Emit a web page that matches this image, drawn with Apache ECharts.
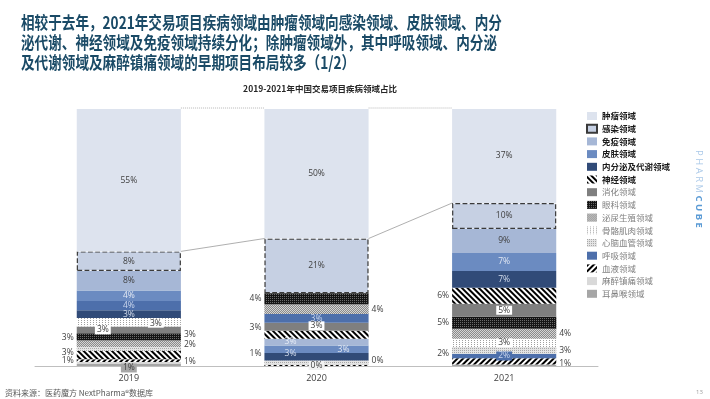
<!DOCTYPE html>
<html>
<head>
<meta charset="utf-8">
<title>2019-2021年中国交易项目疾病领域占比</title>
<script src="https://cdn.jsdelivr.net/npm/echarts@6/dist/echarts.min.js"></script>
<style>
    html, body { margin: 0; padding: 0; background: #fff; }
    #main { width: 710px; height: 399px; }
</style>
</head>
<body>
<div id="main"></div>
<script>
    var years = ['2019', '2020', '2021'];
    var diseases = ['肿瘤领域', '感染领域', '免疫领域', '皮肤领域', '内分泌及代谢领域', '神经领域', '消化领域',
        '眼科领域', '泌尿生殖领域', '骨骼肌肉领域', '心脑血管领域', '呼吸领域', '血液领域', '麻醉镇痛领域', '耳鼻喉领域'];

    // 各领域占比(%)：2019 / 2020 / 2021
    var oncology = [55.4, 50.4, 36.6];
    var infection = [7.6, 21.3, 10.1];
    var immunology = [7.6, 2.6, 9.3];
    var dermatology = [4.1, 2.9, 7.0];
    var endocrine = [3.0, 3.0, 6.6];
    var neurology = [3.2, 3.1, 6.2];
    var digestive = [2.7, 3.1, 5.0];
    var ophthalmology = [2.7, 4.3, 4.7];
    var urogenital = [2.6, 3.8, 3.9];
    var musculoskeletal = [3.3, 0, 3.2];
    var cardio = [1.6, 1.4, 2.6];
    var respiratory = [3.6, 3.4, 1.8];
    var hematology = [1.0, 0.4, 2.4];
    var anesthesia = [0.8, 0.3, 0];
    var ent = [0.8, 0, 0.6];

    // 每年柱子里自下而上的堆叠顺序
    var order2019 = ['耳鼻喉领域', '麻醉镇痛领域', '血液领域', '神经领域', '心脑血管领域', '泌尿生殖领域', '眼科领域',
        '消化领域', '骨骼肌肉领域', '内分泌及代谢领域', '呼吸领域', '皮肤领域', '免疫领域', '感染领域', '肿瘤领域'];
    var order2020 = ['血液领域', '麻醉镇痛领域', '心脑血管领域', '内分泌及代谢领域', '皮肤领域', '免疫领域', '神经领域',
        '消化领域', '呼吸领域', '泌尿生殖领域', '眼科领域', '感染领域', '肿瘤领域'];
    var order2021 = ['耳鼻喉领域', '血液领域', '呼吸领域', '心脑血管领域', '骨骼肌肉领域', '泌尿生殖领域', '眼科领域',
        '消化领域', '神经领域', '内分泌及代谢领域', '皮肤领域', '免疫领域', '感染领域', '肿瘤领域'];

    var valueOf = {
        '肿瘤领域': oncology, '感染领域': infection, '免疫领域': immunology, '皮肤领域': dermatology,
        '内分泌及代谢领域': endocrine, '神经领域': neurology, '消化领域': digestive, '眼科领域': ophthalmology,
        '泌尿生殖领域': urogenital, '骨骼肌肉领域': musculoskeletal, '心脑血管领域': cardio, '呼吸领域': respiratory,
        '血液领域': hematology, '麻醉镇痛领域': anesthesia, '耳鼻喉领域': ent
    };
    var orders = [order2019, order2020, order2021];

    var FONT = "'Noto Sans CJK SC', 'Noto Sans', sans-serif";
    var NUMFONT = "'Open Sans', 'Noto Sans', sans-serif";

    function stripes(rot, on, off) {
        return {symbol: 'rect', symbolSize: 1, color: '#000', dashArrayX: [1, 0], dashArrayY: [on, off], rotation: rot};
    }
    function dots(color, gx, gy) {
        return {symbol: 'rect', symbolSize: 1, color: color, dashArrayX: [1, gx], dashArrayY: [1, gy], rotation: 0};
    }
    function checker(color) {
        return {symbol: 'rect', symbolSize: 1, color: color, dashArrayX: [[1, 1], [0, 1, 1, 0]], dashArrayY: [1, 0], rotation: 0};
    }

    // 图例/色块样式
    var fills = {
        '肿瘤领域': {color: '#dde3ee'},
        '感染领域': {color: '#c6d0e3', borderColor: '#3a3a3a', borderWidth: 1.2, borderType: 'dashed'},
        '免疫领域': {color: '#a6b7d6'},
        '皮肤领域': {color: '#6b8bc1'},
        '内分泌及代谢领域': {color: '#314b78'},
        '神经领域': {color: '#ffffff', decal: stripes(Math.PI / 4, 2, 2)},
        '消化领域': {color: '#7f7f7f'},
        '眼科领域': {color: '#141414', decal: dots('#6a6a6a', 1, 1)},
        '泌尿生殖领域': {color: '#d4d4d4', decal: checker('#8a8a8a')},
        '骨骼肌肉领域': {color: '#ffffff', decal: dots('#a0a0a0', 2, 1)},
        '心脑血管领域': {color: '#e4e4e4', decal: dots('#a8a8a8', 1, 1)},
        '呼吸领域': {color: '#4d6fab'},
        '血液领域': {color: '#ffffff', decal: stripes(-Math.PI / 4, 2, 1.5)},
        '麻醉镇痛领域': {color: '#d9d9d9'},
        '耳鼻喉领域': {color: '#a6a6a6'}
    };
    var lightText = {'皮肤领域': '#e3e9f4', '内分泌及代谢领域': '#d5deee', '呼吸领域': '#cbd7ee'};

    // 标签微调（位置）
    var labelTweak = {
        '2019': {
            '耳鼻喉领域': {offset: [0, 3], backgroundColor: '#a6a6a6'},
            '麻醉镇痛领域': {position: 'right', offset: [0, -1]},
            '血液领域': {position: 'left', offset: [0, 0]},
            '神经领域': {position: 'left', offset: [0, -3]},
            '心脑血管领域': {position: 'right', offset: [0, -4]},
            '泌尿生殖领域': {position: 'right', offset: [0, -9]},
            '眼科领域': {position: 'left', offset: [0, 1]},
            '消化领域': {offset: [-26, 0], backgroundColor: '#ffffff'},
            '骨骼肌肉领域': {offset: [27, 1], backgroundColor: '#ffffff'}
        },
        '2020': {
            '血液领域': {offset: [0, 0], backgroundColor: '#f2f2f2'},
            '麻醉镇痛领域': {position: 'right', offset: [0, -4]},
            '心脑血管领域': {position: 'left', offset: [0, -9]},
            '内分泌及代谢领域': {offset: [-26, -3]},
            '皮肤领域': {offset: [27, 0]},
            '免疫领域': {offset: [-26, -1], color: '#e6ecf6'},
            '神经领域': {position: 'left', offset: [0, -7]},
            '消化领域': {offset: [0, -1], backgroundColor: '#ffffff'},
            '泌尿生殖领域': {position: 'right'},
            '眼科领域': {position: 'left'}
        },
        '2021': {
            '耳鼻喉领域': {position: 'right', offset: [0, -2]},
            '血液领域': {position: 'left', offset: [0, -8]},
            '呼吸领域': {backgroundColor: '#4d6fab'},
            '心脑血管领域': {position: 'right'},
            '骨骼肌肉领域': {backgroundColor: '#ffffff'},
            '泌尿生殖领域': {position: 'right'},
            '眼科领域': {position: 'left'},
            '消化领域': {backgroundColor: '#ffffff'},
            '神经领域': {position: 'left'}
        }
    };

    function styleOf(dname) {
        var f = fills[dname];
        var s = {color: f.color};
        if (f.decal) s.decal = f.decal;
        if (f.borderColor) {
            s.borderColor = f.borderColor;
            s.borderWidth = f.borderWidth;
            s.borderType = f.borderType;
        }
        return s;
    }

    function topOf(j, dname) {
        var s = 0;
        var ord = orders[j];
        for (var n = 0; n < ord.length; n++) {
            s += valueOf[ord[n]][j];
            if (ord[n] === dname) break;
        }
        return s;
    }

    var chart = echarts.init(document.getElementById('main'));

    var maxLayers = Math.max(order2019.length, order2020.length, order2021.length);
    var series = [];

    // 按堆叠层构建 series，每年各层对应不同领域
    for (var k = 0; k < maxLayers; k++) {
        var layerData = [];
        for (var j = 0; j < years.length; j++) {
            var dname = orders[j][k];
            if (!dname) { layerData.push('-'); continue; }
            var tw = labelTweak[years[j]][dname] || {};
            var lab = {
                show: true,
                position: tw.position || 'inside',
                distance: 3,
                color: tw.color || (tw.position ? '#404040' : (lightText[dname] || '#404040'))
            };
            if (tw.offset) lab.offset = tw.offset;
            if (tw.backgroundColor) { lab.backgroundColor = tw.backgroundColor; lab.padding = [0, 2]; }
            layerData.push({value: valueOf[dname][j], itemStyle: styleOf(dname), label: lab});
        }
        series.push({
            name: 'layer' + k,
            type: 'bar',
            stack: 'total',
            barCategoryGap: '44.5%',
            data: layerData,
            label: {
                fontSize: 8.5,
                fontFamily: NUMFONT,
                formatter: function (p) { return Math.round(p.value) + '%'; }
            }
        });
    }

    // 图例用的空 series
    diseases.forEach(function (d) {
        series.push({name: d, type: 'bar', stack: 'total', data: [], itemStyle: styleOf(d)});
    });

    // 感染领域顶部与柱顶的连接线
    var links = [];
    for (var i = 0; i < years.length - 1; i++) {
        links.push([i, topOf(i, '感染领域'), topOf(i + 1, '感染领域'), topOf(i, '肿瘤领域'), topOf(i + 1, '肿瘤领域')]);
    }
    series.push({
        type: 'custom',
        silent: true,
        z: 5,
        data: links,
        encode: {x: 0, y: 1},
        renderItem: function (params, api) {
            var half = api.size([1, 0])[0] * 0.555 / 2;
            var a = api.coord([api.value(0), api.value(1)]);
            var b = api.coord([api.value(0) + 1, api.value(2)]);
            var c = api.coord([api.value(0), api.value(3)]);
            var d = api.coord([api.value(0) + 1, api.value(4)]);
            return {
                type: 'group',
                children: [{
                    type: 'line',
                    shape: {x1: a[0] + half, y1: a[1], x2: b[0] - half, y2: b[1]},
                    style: {stroke: '#8c8c8c', lineWidth: 0.7}
                }, {
                    type: 'line',
                    shape: {x1: c[0] + half, y1: c[1] - 1, x2: d[0] - half, y2: d[1] - 1},
                    style: {stroke: '#9a9a9a', lineWidth: 0.7, lineDash: [1, 1]}
                }]
            };
        }
    });

    var option = {
        animation: false,
        textStyle: {fontFamily: FONT},
        grid: {left: 35, right: 112, top: 109, bottom: 33},
        xAxis: {
            type: 'category',
            data: years,
            axisLine: {lineStyle: {color: '#bfbfbf', width: 1}},
            axisTick: {show: false},
            axisLabel: {color: '#404040', fontSize: 9, margin: 8, fontFamily: NUMFONT}
        },
        yAxis: {type: 'value', min: 0, max: 100, show: false},
        legend: {
            orient: 'vertical',
            left: 581,
            top: 106,
            icon: 'rect',
            itemWidth: 10,
            itemHeight: 8,
            itemGap: 2.7,
            selectedMode: false,
            textStyle: {fontSize: 8.5, lineHeight: 10, color: '#808080', fontFamily: FONT},
            data: diseases.map(function (d, i) {
                return i < 6 ? {name: d, textStyle: {color: '#1a1a1a', fontWeight: 'bold'}} : {name: d};
            })
        },
        graphic: [{
            type: 'text',
            x: 21,
            y: 13,
            scaleX: 0.8,
            style: {
                text: '相较于去年，2021年交易项目疾病领域由肿瘤领域向感染领域、皮肤领域、内分\n' +
                    '泌代谢、神经领域及免疫领域持续分化；除肿瘤领域外，其中呼吸领域、内分泌\n' +
                    '及代谢领域及麻醉镇痛领域的早期项目布局较多（1/2）',
                font: 'bold 17px ' + FONT,
                lineHeight: 20,
                fill: '#1a4a66'
            }
        }, {
            type: 'text',
            x: 320,
            y: 89,
            style: {
                text: '2019-2021年中国交易项目疾病领域占比',
                font: 'bold 8.5px ' + FONT,
                fill: '#262626',
                align: 'center',
                verticalAlign: 'middle'
            }
        }, {
            type: 'text',
            x: 5,
            y: 393,
            style: {
                text: '资料来源：医药魔方 NextPharma®数据库',
                font: '8px ' + FONT,
                fill: '#595959',
                verticalAlign: 'middle'
            }
        }, {
            type: 'text',
            x: 696,
            y: 392,
            style: {text: '13', font: '6px ' + NUMFONT, fill: '#a0a0a0', verticalAlign: 'middle'}
        }, {
            type: 'text',
            x: 699,
            y: 150,
            rotation: -Math.PI / 2,
            style: {
                text: '{a|P H A R M}{b| C U B E}',
                verticalAlign: 'middle',
                rich: {
                    a: {font: '9.5px ' + NUMFONT, fill: '#a9c8e8'},
                    b: {font: 'bold 9.5px ' + NUMFONT, fill: '#5b9bd5'}
                }
            }
        }],
        series: series
    };

    chart.setOption(option);
</script>
</body>
</html>
